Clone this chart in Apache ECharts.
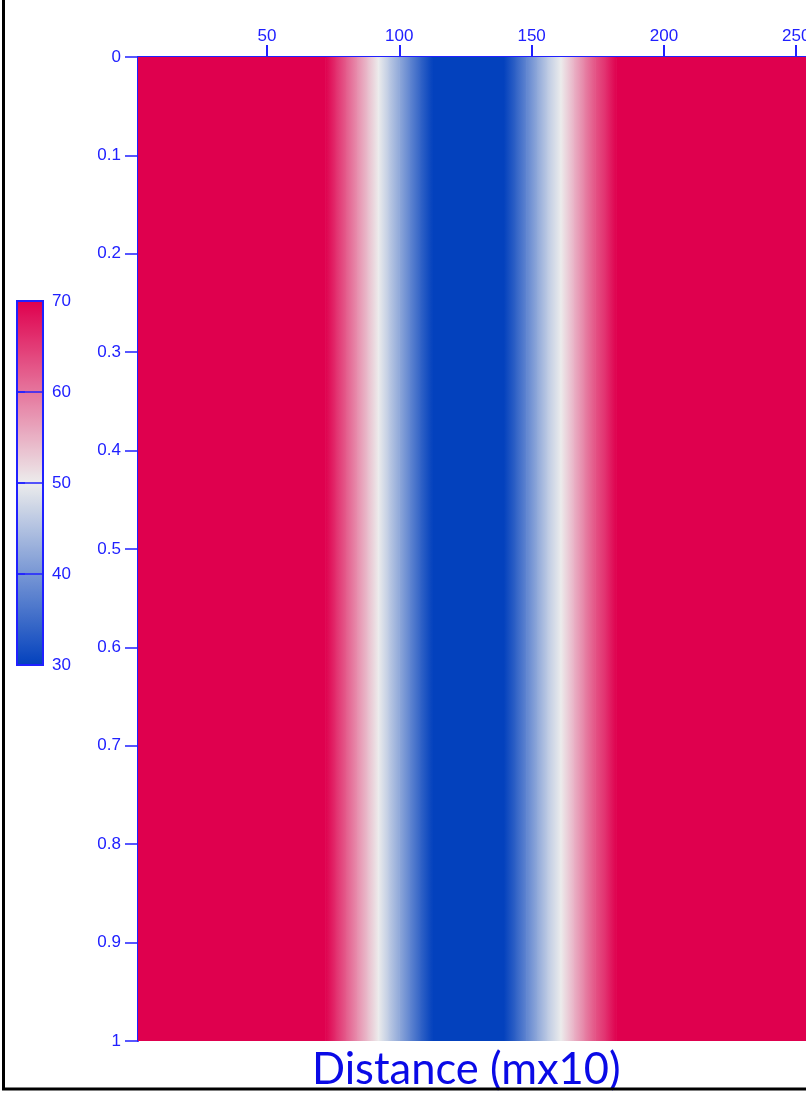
<!DOCTYPE html>
<html>
	<head>
		<meta charset="UTF-8">
		<title></title>
		<script type="text/javascript" src="https://cdn.jsdelivr.net/npm/echarts@6/dist/echarts.min.js"></script>
	</head>
	<body style="margin:0;background:#fff">
		<div id="main" style="width: 806px;height: 1093px;"></div>
		<script type="text/javascript">
			// profile across distance (same for every time value)
			var distance = [1.25, 72, 76, 80, 84, 88, 92, 96, 100, 104, 108, 112.5, 139.5, 144, 148, 152, 156, 161, 166, 170, 174, 178, 182, 254];
			var velocity = [70, 70, 66, 62, 58, 54, 50, 46, 42, 38, 34, 30, 30, 34, 38, 42, 46, 50, 55, 59, 63, 66, 70, 70];
			var xTicks = [50, 100, 150, 200, 250];
			var scaleTicks = [30, 40, 50, 60, 70];

			var BLUE = '#0341bd', MID = '#ececec', RED = '#df004e';
			var axisBlue = '#2020ff';

			function hex2rgb(h) {
				return [parseInt(h.substr(1,2),16), parseInt(h.substr(3,2),16), parseInt(h.substr(5,2),16)];
			}
			function mix(a, b, t) {
				var c1 = hex2rgb(a), c2 = hex2rgb(b);
				return 'rgb(' + [0,1,2].map(function (i) { return Math.round(c1[i] + (c2[i]-c1[i])*t); }).join(',') + ')';
			}
			function colorOf(v) {
				var t = Math.max(0, Math.min(1, (v - 30) / 40));
				return t < 0.5 ? mix(BLUE, MID, t*2) : mix(MID, RED, (t-0.5)*2);
			}

			var segs = [];
			for (var i = 0; i < distance.length - 1; i++) {
				segs.push([distance[i], distance[i+1], velocity[i], velocity[i+1]]);
			}

			var myChart = echarts.init(document.getElementById("main"));
			var labelFont = { color: axisBlue, fontFamily: 'Liberation Sans', fontSize: 17 };

			option = {
				animation: false,
				title: {
					text: 'Distance (mx10)',
					left: 312, top: 1048, padding: 0,
					textStyle: { color: '#0a0ae6', fontFamily: 'Lato', fontSize: 43.5, fontWeight: 'normal' }
				},
				graphic: [{
					type: 'rect', z: 100, silent: true,
					shape: { x: 3.5, y: -5, width: 900, height: 1094 },
					style: { fill: null, stroke: '#000', lineWidth: 3 }
				}],
				visualMap: {
					type: 'continuous', min: 30, max: 70, seriesIndex: 0, dimension: 2,
					left: 17, top: 301, itemWidth: 26, itemHeight: 364, padding: 0,
					calculable: false, hoverLink: false, text: null,
					inRange: { color: [BLUE, MID, RED] }
				},
				grid: [
					{ left: 138, top: 57, right: 0, height: 984, outerBoundsMode: 'none' },
					{ left: 17, top: 301, width: 26, height: 364, show: true, borderColor: axisBlue, borderWidth: 2, z: 10, outerBoundsMode: 'none' }
				],
				xAxis: [{
					type: 'value', position: 'top', min: 1.25, max: 253.7,
					axisLine: { show: true, lineStyle: { color: axisBlue, width: 2 } },
					axisTick: { show: true, length: 12, customValues: xTicks, lineStyle: { color: axisBlue, width: 2 } },
					axisLabel: Object.assign({ customValues: xTicks, margin: 12 }, labelFont),
					splitLine: { show: false }
				}, {
					gridIndex: 1, type: 'value', show: false, min: 0, max: 1
				}],
				yAxis: [{
					type: 'value', inverse: true, min: 0, max: 1, interval: 0.1,
					axisLine: { show: true, lineStyle: { color: axisBlue, width: 2 } },
					axisTick: { show: true, length: 13, lineStyle: { color: axisBlue, width: 1.5 } },
					axisLabel: Object.assign({ margin: 17, formatter: function (v) {
						return (v === 0 || v === 1) ? String(v) : v.toFixed(1);
					} }, labelFont),
					splitLine: { show: false }
				}, {
					gridIndex: 1, type: 'value', position: 'right', min: 30, max: 70, interval: 10, z: 10,
					axisLine: { show: true, lineStyle: { color: axisBlue, width: 2 } },
					axisTick: { show: true, length: 8, lineStyle: { color: axisBlue, width: 1.5 } },
					axisLabel: Object.assign({ margin: 9 }, labelFont),
					splitLine: { show: true, lineStyle: { color: axisBlue, width: 1.5 } }
				}],
				series: [{
					type: 'custom',
					data: segs,
					clip: true,
					renderItem: function (params, api) {
						var p0 = api.coord([api.value(0), 0]);
						var p1 = api.coord([api.value(1), 1]);
						return {
							type: 'rect',
							shape: { x: p0[0], y: p0[1], width: p1[0] - p0[0] + 0.6, height: p1[1] - p0[1] },
							style: { fill: new echarts.graphic.LinearGradient(0, 0, 1, 0, [
								{ offset: 0, color: colorOf(api.value(2)) },
								{ offset: 1, color: colorOf(api.value(3)) }
							]) }
						};
					}
				}, {
					type: 'line', xAxisIndex: 1, yAxisIndex: 1, data: []
				}]
			};
			myChart.setOption(option);
		</script>
	</body>
</html>
